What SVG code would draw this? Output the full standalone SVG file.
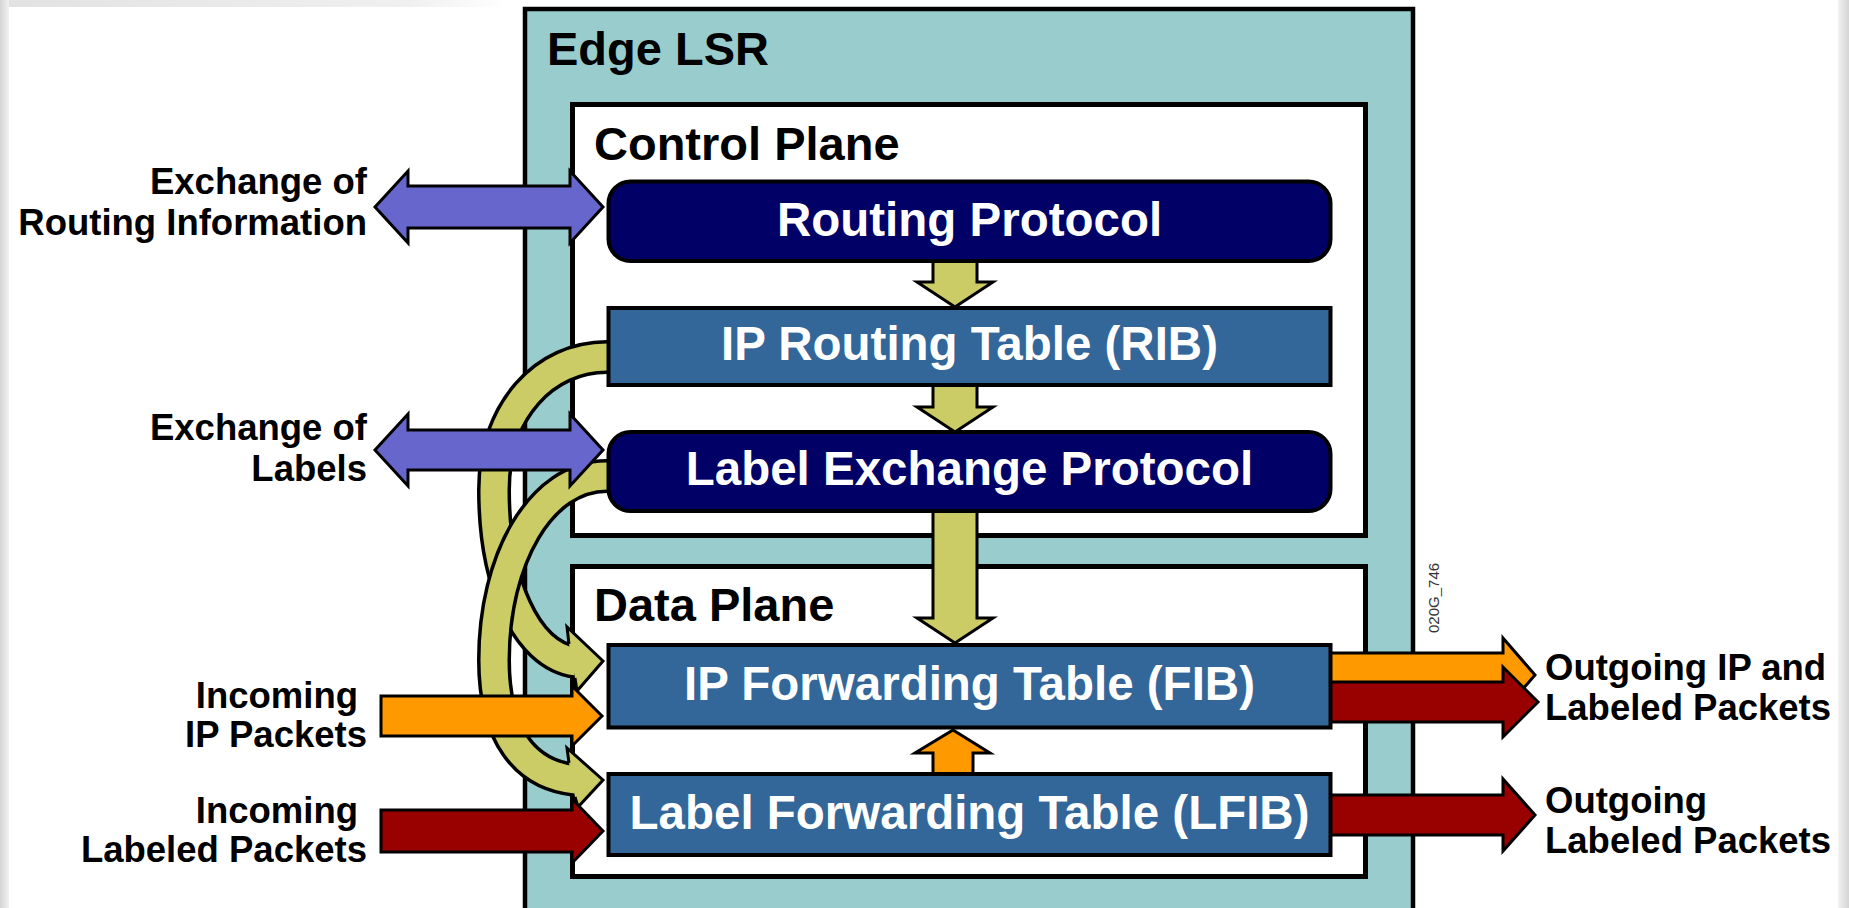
<svg xmlns="http://www.w3.org/2000/svg" width="1849" height="908" viewBox="0 0 1849 908">
<defs>
<linearGradient id="gl" x1="0" y1="0" x2="1" y2="0"><stop offset="0" stop-color="#d4d4d4"/><stop offset="1" stop-color="#f2f2f2"/></linearGradient>
<linearGradient id="gr" x1="1" y1="0" x2="0" y2="0"><stop offset="0" stop-color="#d4d4d4"/><stop offset="1" stop-color="#f2f2f2"/></linearGradient>
<linearGradient id="gt" x1="0" y1="0" x2="1" y2="0"><stop offset="0" stop-color="#e2e2e2"/><stop offset="0.8" stop-color="#f0f0f0"/><stop offset="1" stop-color="#ffffff"/></linearGradient>
<style>
.hdr{font-family:"Liberation Sans",Arial,Helvetica,sans-serif;font-weight:bold;font-size:47px;fill:#000}
.nt{font-family:"Liberation Sans",Arial,Helvetica,sans-serif;font-weight:bold;font-size:47.5px;fill:#fff;text-anchor:middle}
.lbl{font-family:"Liberation Sans",Arial,Helvetica,sans-serif;font-weight:bold;font-size:36.5px;fill:#000}
.code{font-family:"Liberation Sans",Arial,Helvetica,sans-serif;font-size:15px;fill:#333}
.plane{fill:#fff;stroke:#000;stroke-width:5}
.navy{fill:#000066;stroke:#000;stroke-width:4}
.blue{fill:#336699;stroke:#000;stroke-width:4}
.ar{stroke:#000;stroke-width:3;stroke-linejoin:miter}
.purple{fill:#6666CC}
.orange{fill:#FF9900}
.red{fill:#990000}
.yel{fill:#CCCC66}
.bo{fill:none;stroke:#000;stroke-width:34}
.bi{fill:none;stroke:#CCCC66;stroke-width:27}
</style>
</defs>
<rect x="0" y="0" width="1849" height="908" fill="#fff"/>
<rect x="0" y="0" width="9" height="908" fill="url(#gl)"/>
<rect x="1838" y="0" width="11" height="908" fill="url(#gr)"/>
<rect x="9" y="0" width="500" height="7" fill="url(#gt)"/>

<g id="edge-lsr">
<rect x="525" y="9" width="888" height="940" fill="#99CCCC" stroke="#000" stroke-width="4.5"/>
<text class="hdr" x="547" y="65">Edge LSR</text>
</g>
<g id="control-plane">
<rect class="plane" x="572.5" y="104.5" width="793" height="431"/>
<text class="hdr" x="594" y="160">Control Plane</text>
</g>
<g id="data-plane">
<rect class="plane" x="572.5" y="566.5" width="793" height="310"/>
<text class="hdr" x="594" y="621">Data Plane</text>
</g>

<g id="connectors">
<!-- RIB to FIB curved -->
<path class="bo" d="M607,357 C545,357 494,410 494,490 C494,580 525,655 576,662"/>
<path class="bi" d="M607,357 C545,357 494,410 494,490 C494,580 525,655 576,662"/>
<path class="ar yel" d="M569,644 L567,627 L603,661 L577,691 L575,678"/>
<!-- LEP to LFIB curved -->
<path class="bo" d="M607,476 C540,476 494,560 494,660 C494,735 525,775 576,780"/>
<path class="bi" d="M607,476 C540,476 494,560 494,660 C494,735 525,775 576,780"/>
<path class="ar yel" d="M569,763 L567,748 L603,780 L578,807 L575,797"/>
<!-- exchange arrows -->
<polygon class="ar purple" points="375,207 408,171 408,186 570,186 570,171 603,207 570,243 570,228 408,228 408,243"/>
<polygon class="ar purple" points="375,450 408,414 408,430 570,430 570,414 603,450 570,486 570,470 408,470 408,486"/>
<!-- incoming -->
<polygon class="ar orange" points="381,696 572,696 572,686 602,716 572,746 572,736 381,736"/>
<polygon class="ar red" points="381,810 572,810 572,799 603,831 572,863 572,852 381,852"/>
<!-- vertical -->
<polygon class="ar yel" points="933,261 977,261 977,282 993,282 955,307 917,282 933,282"/>
<polygon class="ar yel" points="933,385 977,385 977,407 993,407 955,432 917,407 933,407"/>
<polygon class="ar yel" points="933,511 977,511 977,618 993,618 955,643 917,618 933,618"/>
<polygon class="ar orange" points="933,774 973,774 973,753 990,753 953,730 915,753 933,753"/>
<!-- outgoing -->
<polygon class="ar orange" points="1330,653 1503,653 1503,638 1535,675 1503,712 1503,697 1330,697"/>
<polygon class="ar red" points="1330,682 1503,682 1503,667 1538,702 1503,737 1503,722 1330,722"/>
<polygon class="ar red" points="1330,795 1503,795 1503,779 1535,815 1503,851 1503,835 1330,835"/>
</g>

<g id="routing-protocol">
<rect class="navy" x="608.5" y="181.5" width="722" height="79.5" rx="22"/>
<text class="nt" x="969.5" y="236">Routing Protocol</text>
</g>
<g id="rib">
<rect class="blue" x="608.5" y="308" width="722" height="77"/>
<text class="nt" x="969.5" y="360">IP Routing Table (RIB)</text>
</g>
<g id="label-exchange-protocol">
<rect class="navy" x="608.5" y="432" width="722" height="79" rx="22"/>
<text class="nt" x="969.5" y="485">Label Exchange Protocol</text>
</g>
<g id="fib">
<rect class="blue" x="608.5" y="645" width="722" height="82.5"/>
<text class="nt" x="969.5" y="700">IP Forwarding Table (FIB)</text>
</g>
<g id="lfib">
<rect class="blue" x="608.5" y="774" width="722" height="81"/>
<text class="nt" x="969.5" y="829">Label Forwarding Table (LFIB)</text>
</g>

<g id="labels">
<text class="lbl" text-anchor="end"><tspan x="367" y="194">Exchange of</tspan><tspan x="367" y="235">Routing Information</tspan></text>
<text class="lbl" text-anchor="end"><tspan x="367" y="440">Exchange of</tspan><tspan x="367" y="481">Labels</tspan></text>
<text class="lbl" text-anchor="end"><tspan x="358" y="708">Incoming</tspan><tspan x="367" y="747">IP Packets</tspan></text>
<text class="lbl" text-anchor="end"><tspan x="358" y="823">Incoming</tspan><tspan x="367" y="862">Labeled Packets</tspan></text>
<text class="lbl"><tspan x="1545" y="680">Outgoing IP and</tspan><tspan x="1545" y="720">Labeled Packets</tspan></text>
<text class="lbl"><tspan x="1545" y="813">Outgoing</tspan><tspan x="1545" y="853">Labeled Packets</tspan></text>
<text class="code" transform="translate(1439,633) rotate(-90)">020G_746</text>
</g>
</svg>
